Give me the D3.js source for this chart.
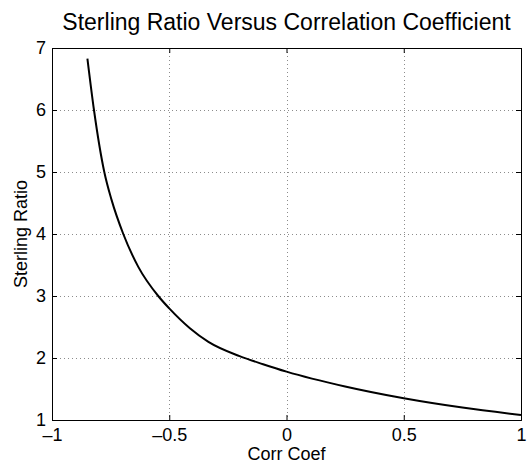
<!DOCTYPE html>
<html>
<head>
<meta charset="utf-8">
<script src="https://cdn.jsdelivr.net/npm/d3@7"></script>
<style>
  body { margin: 0; background: #fff; }
  svg { font-family: "Liberation Sans", Arial, sans-serif; }
</style>
</head>
<body>
<svg id="chart" width="527" height="463"></svg>
<script>
// values
const corrCoef = [-0.849, -0.821, -0.777, -0.746, -0.696, -0.632, -0.547, -0.5,
  -0.412, -0.333, -0.2, -0.1, 0, 0.25, 0.5, 0.75, 1];
const sterling = [6.83, 6.0, 5.0, 4.55, 4.0, 3.47, 3.0, 2.80,
  2.48, 2.26, 2.03, 1.90, 1.78, 1.54, 1.35, 1.20, 1.08];
const xTicks = [-1, -0.5, 0, 0.5, 1];
const yTicks = [1, 2, 3, 4, 5, 6, 7];

const svg = d3.select("#chart");
const margin = { left: 52, right: 6, top: 48, bottom: 43 };
const width = +svg.attr("width");
const height = +svg.attr("height");

const x = d3.scaleLinear().domain([-1, 1]).range([margin.left, width - margin.right]);
const y = d3.scaleLinear().domain([1, 7]).range([height - margin.bottom, margin.top]);

const fmt = (d) => (d < 0 ? "\u2013" + Math.abs(d) : String(d));

// grid lines (dotted)
const grid = svg.append("g").attr("stroke", "#8c8c8c").attr("stroke-dasharray", "1,3");
grid.selectAll(".gx")
  .data(xTicks.slice(1, -1))
  .join("line")
  .attr("x1", (d) => Math.round(x(d)) + 0.5)
  .attr("x2", (d) => Math.round(x(d)) + 0.5)
  .attr("y1", y(7))
  .attr("y2", y(1));
grid.selectAll(".gy")
  .data(yTicks.slice(1, -1))
  .join("line")
  .attr("y1", (d) => Math.round(y(d)) + 0.5)
  .attr("y2", (d) => Math.round(y(d)) + 0.5)
  .attr("x1", x(-1))
  .attr("x2", x(1));

// the curve
const line = d3.line()
  .x((d, i) => x(corrCoef[i]))
  .y((d) => y(d))
  .curve(d3.curveMonotoneX);
svg.append("path")
  .attr("d", line(sterling))
  .attr("fill", "none")
  .attr("stroke", "#000")
  .attr("stroke-width", 2);

// axes: ticks inward, box on all sides
const tickLen = 5;
svg.append("g")
  .attr("transform", `translate(0,${y(1)})`)
  .call(d3.axisBottom(x).tickValues(xTicks).tickFormat(fmt).tickSize(-tickLen).tickPadding(8));
svg.append("g")
  .attr("transform", `translate(${x(-1)},0)`)
  .call(d3.axisLeft(y).tickValues(yTicks).tickFormat(d3.format("d")).tickSize(-tickLen).tickPadding(6));
svg.append("g")
  .attr("transform", `translate(0,${y(7)})`)
  .call(d3.axisTop(x).tickValues(xTicks).tickFormat("").tickSize(-tickLen));
svg.append("g")
  .attr("transform", `translate(${x(1)},0)`)
  .call(d3.axisRight(y).tickValues(yTicks).tickFormat("").tickSize(-tickLen));

svg.selectAll(".domain").attr("stroke", "#000");
svg.selectAll(".tick line").attr("stroke", "#000");
svg.selectAll(".tick text")
  .attr("fill", "#000")
  .style("font-size", "18px")
  .style("font-family", "Liberation Sans, Arial, sans-serif");

// title and labels
svg.append("text")
  .attr("x", x(0))
  .attr("y", 30)
  .attr("text-anchor", "middle")
  .style("font-size", "23px")
  .text("Sterling Ratio Versus Correlation Coefficient");

svg.append("text")
  .attr("x", x(0))
  .attr("y", 460)
  .attr("text-anchor", "middle")
  .style("font-size", "18px")
  .text("Corr Coef");

svg.append("text")
  .attr("transform", `translate(27,${(y(1) + y(7)) / 2}) rotate(-90)`)
  .attr("text-anchor", "middle")
  .style("font-size", "18px")
  .text("Sterling Ratio");
</script>
</body>
</html>
